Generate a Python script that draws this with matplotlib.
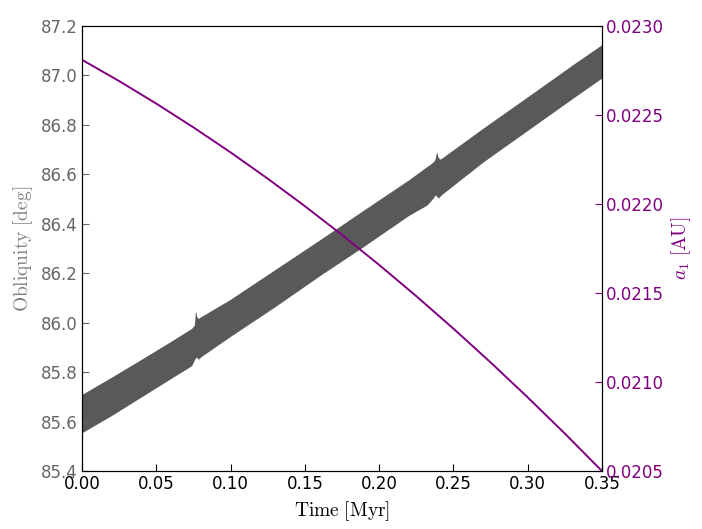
import numpy as np
import matplotlib
matplotlib.use('Agg')
import matplotlib.pyplot as plt

plt.rcParams['mathtext.fontset'] = 'cm'

# Obliquity band (fast oscillation envelope)
time_obl = [0.0, 0.02, 0.04, 0.06, 0.0738, 0.0756, 0.0764, 0.0772, 0.0783, 0.080,
            0.10, 0.13, 0.16, 0.19, 0.22, 0.2320, 0.2342, 0.2365, 0.2376, 0.2387,
            0.2398, 0.2410, 0.2425, 0.27, 0.30, 0.33, 0.35]
obl_upper = [85.71, 85.78, 85.852, 85.925, 85.977, 85.99, 86.048, 86.025, 86.017, 86.024,
             86.095, 86.215, 86.335, 86.457, 86.578, 86.631, 86.640, 86.651, 86.660, 86.691,
             86.668, 86.661, 86.667, 86.787, 86.914, 87.042, 87.125]
obl_lower = [85.555, 85.625, 85.70, 85.775, 85.826, 85.849, 85.858, 85.860, 85.852, 85.862,
             85.945, 86.065, 86.19, 86.31, 86.434, 86.475, 86.489, 86.505, 86.516, 86.512,
             86.503, 86.512, 86.520, 86.65, 86.778, 86.906, 86.99]

# Semi-major axis of planet 1
time_a = [0.0, 0.025, 0.05, 0.075, 0.10, 0.125, 0.15, 0.175, 0.20, 0.225, 0.25,
          0.275, 0.30, 0.325, 0.35]
a1 = [0.0228100, 0.0226905, 0.0225640, 0.0224305, 0.0222900, 0.0221425, 0.0219880,
      0.0218265, 0.0216580, 0.0214825, 0.0213000, 0.0211105, 0.0209140, 0.0207105,
      0.0205000]

gray = '0.4'
purple = 'purple'

fig = plt.figure(figsize=(7.02, 5.29), dpi=100)
ax = fig.add_axes([0.1168, 0.1096, 0.7407, 0.8413])
ax.fill_between(time_obl, obl_lower, obl_upper, color='0.35', lw=0)
ax.set_xlim(0, 0.35)
ax.set_ylim(85.4, 87.2)
ax.set_xticks(np.arange(0, 0.351, 0.05))
ax.set_yticks(np.arange(85.4, 87.21, 0.2))
ax.xaxis.set_major_formatter(matplotlib.ticker.FormatStrFormatter('%.2f'))
ax.yaxis.set_major_formatter(matplotlib.ticker.FormatStrFormatter('%.1f'))
ax.tick_params(axis='x', direction='in', length=5, labelsize=12, pad=3)
ax.tick_params(axis='y', direction='in', length=5, labelsize=12, colors=gray, pad=3)
ax.set_xlabel(r'$\mathrm{Time\ [Myr]}$', fontsize=14)
ax.set_ylabel(r'$\mathrm{Obliquity\ [deg]}$', fontsize=14, color='0.5')

ax2 = ax.twinx()
ax2.plot(time_a, a1, color=purple, lw=1.4)
ax2.set_ylim(0.0205, 0.0230)
ax2.set_yticks(np.arange(0.0205, 0.02301, 0.0005))
ax2.yaxis.set_major_formatter(matplotlib.ticker.FormatStrFormatter('%.4f'))
ax2.tick_params(axis='y', direction='in', length=5, labelsize=12, colors=purple, pad=3)
ax2.set_ylabel(r'$a_1\ \mathrm{[AU]}$', fontsize=14, color=purple)

fig.savefig('out.png', dpi=100)
